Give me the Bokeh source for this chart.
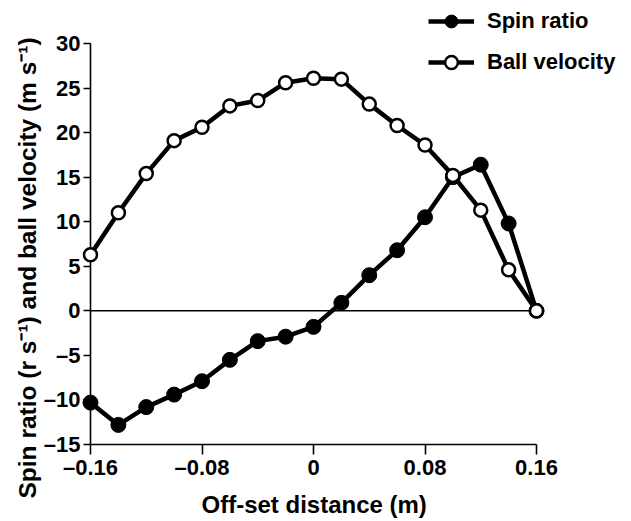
from bokeh.plotting import figure
from bokeh.models import Range1d, FixedTicker, Legend, LegendItem, Title
from bokeh.embed import file_html
from bokeh.resources import INLINE

# ---- data ----
offset = [-0.16, -0.14, -0.12, -0.10, -0.08, -0.06, -0.04, -0.02, 0.0,
          0.02, 0.04, 0.06, 0.08, 0.10, 0.12, 0.14, 0.16]
spin_ratio = [-10.3, -12.8, -10.8, -9.4, -7.9, -5.5, -3.4, -2.9, -1.8,
              0.9, 4.0, 6.8, 10.5, 15.0, 16.4, 9.8, 0.0]
ball_velocity = [6.3, 11.0, 15.4, 19.1, 20.6, 23.0, 23.6, 25.6, 26.1,
                 26.0, 23.2, 20.8, 18.6, 15.2, 11.3, 4.6, 0.0]
x_ticks = [-0.16, -0.08, 0.0, 0.08, 0.16]
y_ticks = [-15, -10, -5, 0, 5, 10, 15, 20, 25, 30]
x_labels = {-0.16: "\u20130.16", -0.08: "\u20130.08", 0.0: "0", 0.08: "0.08", 0.16: "0.16"}
y_labels = {-15: "\u201315", -10: "\u201310", -5: "\u20135"}
series_names = ["Spin ratio", "Ball velocity"]
x_title = "Off-set distance (m)"
y_title = "Spin ratio (r s\u207b\u00b9) and ball velocity  (m s\u207b\u00b9)"

FONT = "Liberation Sans"

# ---- layout (pixels) ----
AXIS_W = 446          # pixel length of the x axis (-0.16 .. 0.16)
AXIS_H = 401          # pixel length of the y axis (-15 .. 30)
FRAME_W, FRAME_H = 538, 444
px_x = AXIS_W / (x_ticks[-1] - x_ticks[0])
px_y = AXIS_H / (y_ticks[-1] - y_ticks[0])
x_end = x_ticks[0] + FRAME_W / px_x
y_end = y_ticks[0] + FRAME_H / px_y

p = figure(frame_width=FRAME_W, frame_height=FRAME_H,
           min_border_left=90, min_border_right=2,
           min_border_top=0, min_border_bottom=76,
           x_range=Range1d(x_ticks[0], x_end), y_range=Range1d(y_ticks[0], y_end),
           output_backend="svg", toolbar_location=None,
           background_fill_color="white", border_fill_color="white")
p.outline_line_color = None
p.grid.visible = False

for ax in (p.xaxis[0], p.yaxis[0]):
    ax.axis_line_color = "black"
    ax.axis_line_width = 1.6
    ax.major_tick_line_color = "black"
    ax.major_tick_line_width = 1.6
    ax.major_tick_in = 0
    ax.minor_tick_line_color = None
    ax.major_label_text_font = FONT
    ax.major_label_text_font_style = "bold"
    ax.major_label_text_font_size = "22px"
    ax.major_label_text_color = "black"

xa = p.xaxis[0]
xa.ticker = FixedTicker(ticks=x_ticks)
xa.major_label_overrides = x_labels
xa.bounds = (x_ticks[0], x_ticks[-1])
xa.major_tick_out = 10
xa.major_label_standoff = 0

ya = p.yaxis[0]
ya.ticker = FixedTicker(ticks=y_ticks)
ya.major_label_overrides = y_labels
ya.bounds = (y_ticks[0], y_ticks[-1])
ya.major_tick_out = 7
ya.major_label_standoff = 3

# axis titles
p.add_layout(Title(text=x_title, align="left", offset=111, vertical_align="top",
                   standoff=16, text_font=FONT, text_font_style="bold",
                   text_font_size="24px", text_color="black"), "below")
p.add_layout(Title(text=y_title, align="left", offset=-54, standoff=0,
                   text_font=FONT, text_font_style="bold",
                   text_font_size="24.5px", text_color="black"), "left")

# zero line
p.segment(x0=[offset[0]], y0=[0], x1=[offset[-1]], y1=[0],
          line_color="black", line_width=1.5)

# series (overlay level so edge markers are not clipped by the frame)
l1 = p.line(offset, spin_ratio, line_color="black", line_width=4.5,
            line_join="round", level="overlay")
m1 = p.scatter(offset, spin_ratio, marker="circle", size=15,
               fill_color="black", line_color="black", line_width=1, level="overlay")
l2 = p.line(offset, ball_velocity, line_color="black", line_width=4.5,
            line_join="round", level="overlay")
m2 = p.scatter(offset, ball_velocity, marker="circle", size=13,
               fill_color="white", line_color="black", line_width=2.5, level="overlay")

legend = Legend(items=[LegendItem(label=series_names[0], renderers=[l1, m1]),
                       LegendItem(label=series_names[1], renderers=[l2, m2])],
                location=(338, 366),
                glyph_width=46, glyph_height=32, label_height=32,
                spacing=9, padding=0, margin=0, label_standoff=13,
                label_text_font=FONT, label_text_font_style="bold",
                label_text_font_size="22px", label_text_color="black",
                background_fill_alpha=0, border_line_color=None)
p.add_layout(legend, "center")

open("out.html", "w").write(file_html(p, INLINE))
